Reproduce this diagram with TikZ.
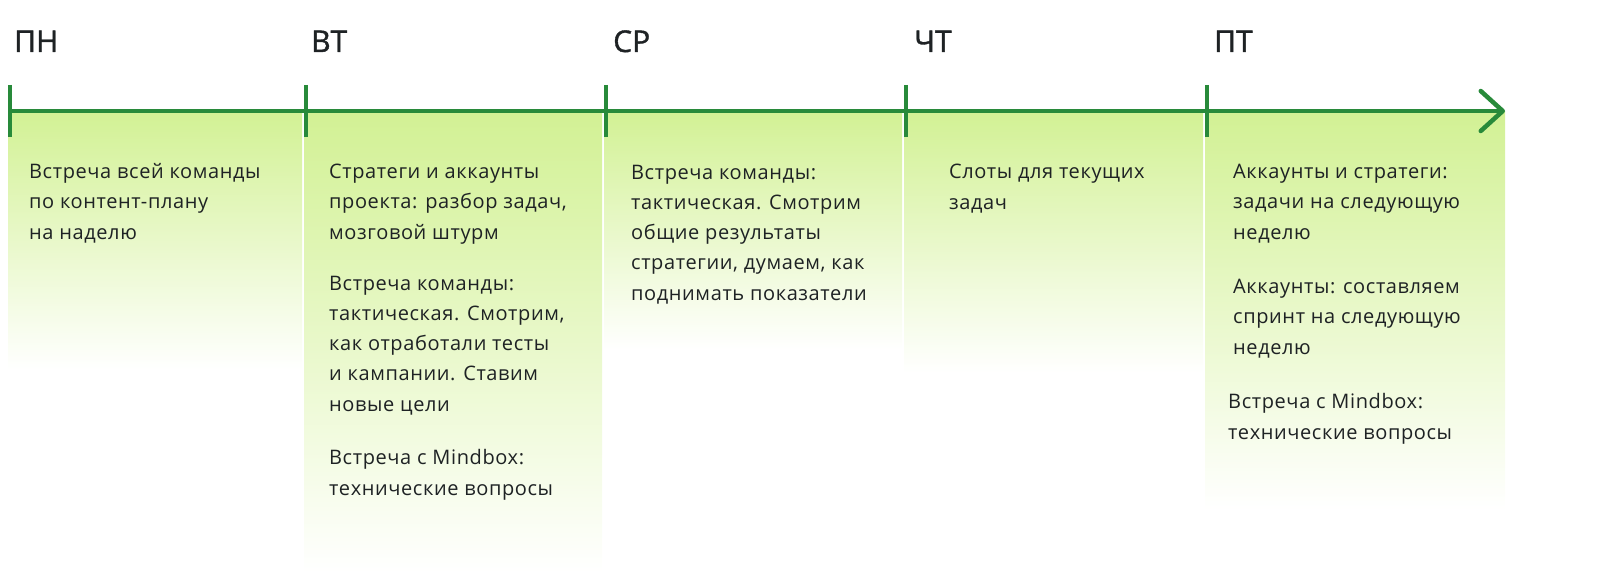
\documentclass[tikz,border=0pt]{standalone}
\usepackage{fontspec}
\setmainfont{Open Sans}
\newfontfamily\taskfont[LetterSpace=3]{Open Sans}
\newfontfamily\dayfont[FakeBold=1.2]{Open Sans}
\usepackage{tikz}
\usetikzlibrary{positioning,arrows.meta}

\definecolor{axisgreen}{RGB}{40,138,58}
\definecolor{colfill}{RGB}{210,241,148}
\definecolor{textdark}{RGB}{30,34,36}

\begin{document}
\begin{tikzpicture}[
    x=1pt, y=-1pt,
    axis/.style={draw, line width=4.5pt, color=axisgreen},
    daytick/.style={draw, line width=4.5pt, color=axisgreen},
    column/.style={top color=colfill, middle color=colfill!70, bottom color=white},
    day/.style={anchor=base west, inner sep=0pt, text=textdark, font=\dayfont\fontsize{30}{36}\selectfont},
    task/.style={anchor=base west, align=left, inner sep=0pt, text=textdark, font=\taskfont\fontsize{20}{30.2}\selectfont}
]
\useasboundingbox (0,0) rectangle (1599,586);

% Background columns
\shade[column] (8,111) rectangle (302,370);
\shade[column] (304,111) rectangle (602,573);
\shade[column] (604,111) rectangle (902,350);
\shade[column] (904,111) rectangle (1203,373);
\shade[column] (1205,111) rectangle (1505,510);

% Define axis and tick positions
\coordinate (start) at (8,111);
\coordinate (end) at (1505,111);
\coordinate (mon top) at (10,85);
\coordinate (mon bot) at (10,137);
\coordinate (tue top) at (306,85);
\coordinate (tue bot) at (306,137);
\coordinate (wed top) at (606,85);
\coordinate (wed bot) at (606,137);
\coordinate (thu top) at (906,85);
\coordinate (thu bot) at (906,137);
\coordinate (fri top) at (1207,85);
\coordinate (fri bot) at (1207,137);

% Draw axis with ticks
\draw[axis, -{Straight Barb[length=22pt, width=40pt, round]}] (start) -- (end);
\draw[daytick] (mon top) -- (mon bot);
\draw[daytick] (tue top) -- (tue bot);
\draw[daytick] (wed top) -- (wed bot);
\draw[daytick] (thu top) -- (thu bot);
\draw[daytick] (fri top) -- (fri bot);

% Day labels
\node[day] (mon) at (14,52) {ПН};
\node[day] (tue) at (311,52) {ВТ};
\node[day] (wed) at (613,52) {СР};
\node[day] (thu) at (914,52) {ЧТ};
\node[day] (fri) at (1214,52) {ПТ};

% Tasks for each day (anchored at the baseline of the last line)
\node[task] (mon1) at (29,239) {Встреча всей команды\\по контент-плану\\на наделю};

\node[task] (tue1) at (329,239) {Стратеги и аккаунты\\проекта: разбор задач,\\мозговой штурм};
\node[task] (tue2) at (329,411) {Встреча команды:\\тактическая. Смотрим,\\как отработали тесты\\и кампании. Ставим\\новые цели};
\node[task] (tue3) at (329,495) {Встреча с Mindbox:\\технические вопросы};

\node[task] (wed1) at (631,300) {Встреча команды:\\тактическая. Смотрим\\общие результаты\\стратегии, думаем, как\\поднимать показатели};

\node[task] (thu1) at (949,209) {Слоты для текущих\\задач};

\node[task] (fri1) at (1233,239) {Аккаунты и стратеги:\\задачи на следующую\\неделю};
\node[task] (fri2) at (1233,354) {Аккаунты: составляем\\спринт на следующую\\неделю};
\node[task] (fri3) at (1228,439) {Встреча с Mindbox:\\технические вопросы};

\end{tikzpicture}
\end{document}
